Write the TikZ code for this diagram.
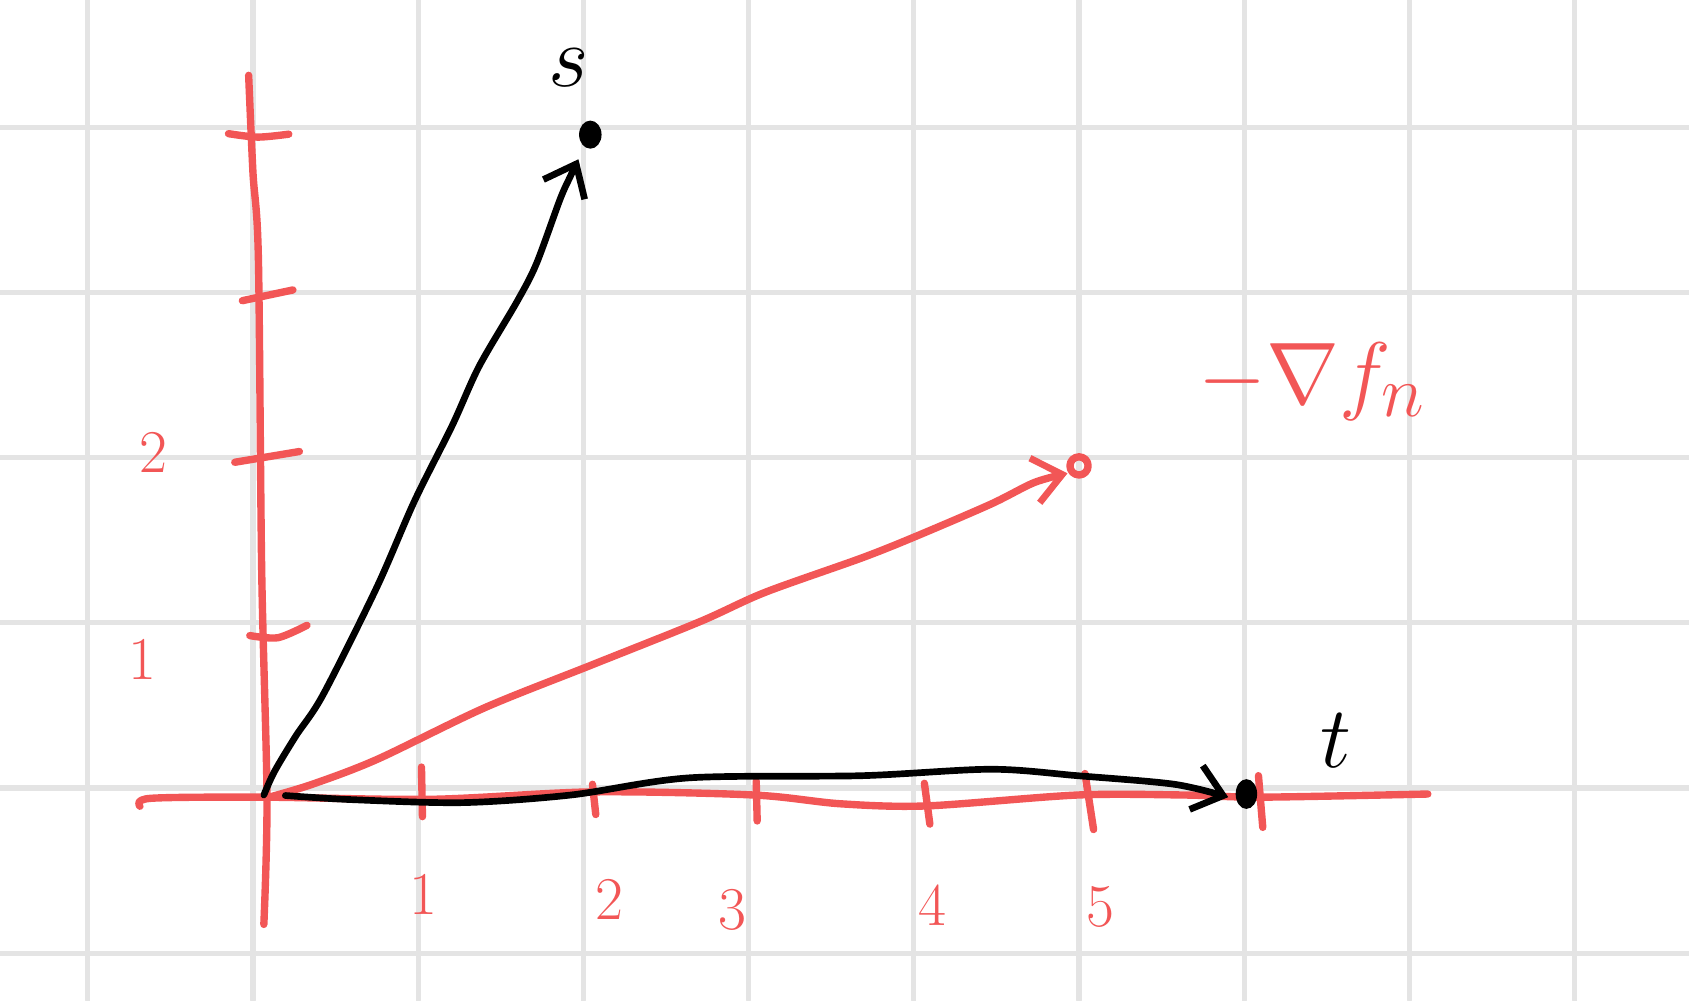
\documentclass[tikz,border=0pt]{standalone}
\usepackage{amsmath,amssymb}
\usepackage{tikz}
\usetikzlibrary{arrows.meta}
\definecolor{penred}{RGB}{242,86,86}
\definecolor{gridgray}{RGB}{228,228,228}

\begin{document}
\begin{tikzpicture}[x=1.652cm,y=1.652cm,line cap=round,line join=round]
	\tikzset{
		gridline/.style={gridgray, line width=1.5pt},
		redpen/.style={penred, line width=2.1pt},
		blackpen/.style={black, line width=1.9pt},
		tip/.style={-{Straight Barb[length=8pt, width=13pt, line width=1.9pt]}},
		num/.style={penred, font=\LARGE},
	}
	\useasboundingbox (-1.531,-1.283) rectangle (8.692,4.770);
	% paper grid
	\draw[gridline, step=1] (-1.531,-1.283) grid (8.692,4.770);
	\coordinate (O) at (0.07,-0.05);

	% t and s axes
	\draw[redpen] plot[smooth] coordinates {(-0.684,-0.11) (-0.619,-0.062) (0.066,-0.055) (1.077,-0.068) (2.055,-0.023) (3.033,-0.042) (3.555,-0.095) (4.077,-0.108) (4.99,-0.042) (5.642,-0.042) (6.1,-0.055) (7.111,-0.036)};
	\draw[redpen] plot[smooth] coordinates {(0.066,-0.825) (0.085,-0.055) (0.053,1.314) (0.033,3.205) (0.0,3.727) (-0.026,4.314)};
	% ticks
	\draw[redpen] plot[smooth] coordinates {(-0.148,3.961) (0.03,3.94) (0.217,3.958)};
	\draw[redpen] (-0.064,2.95) -- (0.242,3.015);
	\draw[redpen] (-0.11,1.972) -- (0.281,2.037);
	\draw[redpen] plot[smooth] coordinates {(-0.019,0.923) (0.151,0.91) (0.327,0.985)};
	\foreach \a/\b/\c/\d in {1.02/0.127/1.026/-0.173, 2.055/0.023/2.075/-0.16, 3.046/0.042/3.052/-0.199, 4.064/0.029/4.097/-0.218, 5.036/0.088/5.088/-0.251, 6.086/0.075/6.112/-0.238}
		\draw[redpen] (\a,\b) -- (\c,\d);
	% tick numbers
	\node[num] (y1) at (-0.67,0.78) {1};
	\node[num] (y2) at (-0.605,2.03) {2};
	\node[num] (x1) at (1.033,-0.642) {1};
	\node[num] (x2) at (2.16,-0.675) {2};
	\node[num] (x3) at (2.9,-0.74) {3};
	\node[num] (x4) at (4.11,-0.707) {4};
	\node[num] (x5) at (5.13,-0.72) {5};

	% negative gradient
	\draw[redpen, tip] plot[smooth] coordinates {(0.098,-0.055) (0.359,0.023) (0.75,0.173) (1.402,0.486) (2.055,0.747) (2.707,1.008) (3.098,1.184) (3.685,1.393) (4.011,1.523) (4.467,1.719) (4.728,1.849) (4.93,1.905)};
	\draw[redpen] (5.0,1.95) circle (0.055);
	\node[penred, font=\Huge] (grad) at (6.41,2.46) {$-\nabla f_n$};

	% s direction
	\draw[blackpen, tip] plot[smooth] coordinates {(0.066,-0.042) (0.13,0.1) (0.26,0.316) (0.424,0.564) (0.75,1.216) (0.978,1.738) (1.206,2.194) (1.369,2.553) (1.598,2.944) (1.715,3.172) (1.859,3.564) (1.92,3.7) (1.97,3.806)};
	\fill (2.042,3.955) ellipse (0.068 and 0.085);
	\node[font=\Huge] (s) at (1.911,4.36) {$s$};

	% t direction
	\draw[blackpen, tip] plot[smooth] coordinates {(0.196,-0.045) (0.6,-0.07) (1.272,-0.088) (1.924,-0.042) (2.641,0.062) (3.685,0.075) (4.467,0.114) (4.99,0.075) (5.577,0.023) (5.903,-0.055)};
	\fill (6.013,-0.036) ellipse (0.065 and 0.09);
	\node[font=\Huge] (t) at (6.554,0.29) {$t$};
\end{tikzpicture}
\end{document}
